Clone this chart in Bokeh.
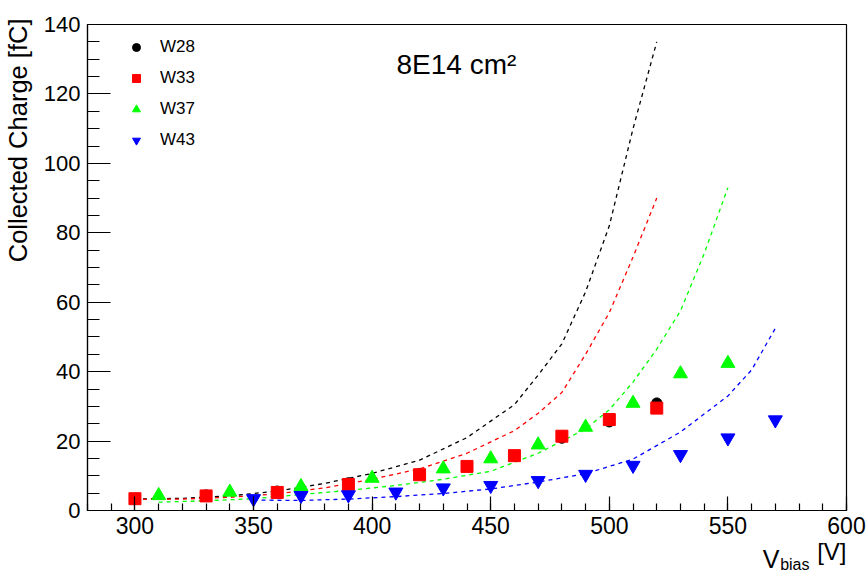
import math
from bokeh.plotting import figure
from bokeh.models import (Range1d, SingleIntervalTicker, Label, Legend, LegendItem)
from bokeh.embed import file_html
from bokeh.resources import INLINE

# ---- data ----
w28_v = [300, 330, 360, 390, 420, 440, 460, 480, 500, 520]
w28_q = [3.3, 4.5, 5.6, 8.0, 10.6, 12.7, 15.6, 20.8, 25.5, 31.0]
w33_v = [300, 330, 360, 390, 420, 440, 460, 480, 500, 520]
w33_q = [3.4, 4.2, 5.2, 7.5, 10.3, 12.7, 15.8, 21.4, 26.2, 29.5]
w37_v = [310, 340, 370, 400, 430, 450, 470, 490, 510, 530, 550]
w37_q = [4.3, 5.3, 6.9, 9.3, 12.0, 14.9, 18.9, 24.0, 30.9, 39.4, 42.4]
w43_v = [350, 370, 390, 410, 430, 450, 470, 490, 510, 530, 550, 570]
w43_q = [3.4, 4.3, 4.5, 5.3, 6.5, 7.2, 8.6, 10.4, 13.0, 16.1, 20.9, 26.1]

sim28_v = [300, 320, 340, 360, 380, 400, 420, 440, 460, 470, 480, 490, 500, 510, 520]
sim28_q = [3.3, 3.5, 4.2, 5.6, 7.8, 10.7, 14.5, 21.0, 30.5, 39.0, 48.0, 63.0, 82.0, 110.0, 135.0]
sim33_v = [300, 320, 340, 360, 380, 400, 420, 440, 460, 470, 480, 490, 500, 510, 520]
sim33_q = [3.2, 3.3, 3.8, 4.8, 6.5, 9.0, 12.0, 16.5, 23.0, 28.0, 34.0, 45.0, 57.0, 73.0, 90.0]
sim37_v = [310, 330, 350, 370, 390, 410, 430, 450, 470, 490, 500, 510, 520, 530, 540, 550]
sim37_q = [2.4, 2.8, 3.4, 4.6, 5.8, 7.2, 9.0, 11.3, 16.5, 23.5, 29.0, 37.0, 46.5, 57.5, 74.0, 93.0]
sim43_v = [350, 370, 390, 410, 430, 450, 470, 490, 510, 530, 550, 560, 570]
sim43_q = [3.0, 2.9, 3.3, 4.0, 4.9, 6.2, 8.2, 10.6, 14.8, 22.6, 33.0, 40.5, 52.5]

labels = ["W28", "W33", "W37", "W43"]
colors = ["#000000", "#ff0000", "#00ff00", "#0000ff"]
markers = ["circle", "square", "triangle", "inverted_triangle"]
marker_sizes = [10, 12, 14, 14]

x_range = (280, 600)
y_range = (0, 140)

FONT = "Liberation Sans"

p = figure(width=866, height=570, output_backend="svg", toolbar_location=None,
           x_range=Range1d(*x_range), y_range=Range1d(*y_range),
           min_border_left=87, min_border_right=20, min_border_top=24,
           min_border_bottom=60)
p.grid.visible = False
p.outline_line_color = "black"
p.outline_line_width = 1.2
p.background_fill_color = "white"
p.border_fill_color = "white"

xa = p.xaxis[0]
xa.ticker = SingleIntervalTicker(interval=50, num_minor_ticks=5)
xa.major_tick_in = 14
xa.major_tick_out = 0
xa.minor_tick_in = 7
xa.minor_tick_out = 0
xa.major_label_standoff = 6
xa.major_label_text_font = FONT
xa.major_label_text_font_size = "23px"
xa.major_label_text_color = "black"

ya = p.yaxis[0]
ya.ticker = SingleIntervalTicker(interval=20, num_minor_ticks=4)
ya.major_tick_in = 23
ya.major_tick_out = 0
ya.minor_tick_in = 12
ya.minor_tick_out = 0
ya.major_label_standoff = 7
ya.major_label_text_font = FONT
ya.major_label_text_font_size = "22px"
ya.major_label_text_color = "black"

for ax in (xa, ya):
    ax.axis_line_color = "black"
    ax.axis_line_width = 1.2
    ax.major_tick_line_color = "black"
    ax.minor_tick_line_color = "black"
    ax.major_tick_line_width = 1.2
    ax.minor_tick_line_width = 1.2

sims = [(sim28_v, sim28_q), (sim33_v, sim33_q), (sim37_v, sim37_q), (sim43_v, sim43_q)]
for (sv, sq), c in zip(sims, colors):
    p.line(sv, sq, line_color=c, line_width=1.3, line_dash="4 4")

pts = [(w28_v, w28_q), (w33_v, w33_q), (w37_v, w37_q), (w43_v, w43_q)]
items = []
for (pv, pq), c, m, s, lab in zip(pts, colors, markers, marker_sizes, labels):
    r = p.scatter(pv, pq, marker=m, size=s, fill_color=c, line_color=c)
    items.append(LegendItem(label=lab, renderers=[r]))

legend = Legend(items=items, location=(39, 360), margin=0, padding=0,
                spacing=11, label_height=20, glyph_height=20, glyph_width=20,
                label_standoff=14, border_line_alpha=0, background_fill_alpha=0,
                label_text_font=FONT, label_text_font_size="17px",
                label_text_color="black")
p.add_layout(legend)

# annotation "8E14 cm²"
p.add_layout(Label(x=309, y=446, x_units="screen", y_units="screen",
                   text="8E14 cm\u00b2", text_font=FONT, text_font_size="28px",
                   text_color="black", text_baseline="alphabetic"))

# y axis title (in the left side panel, so it is not clipped by the frame)
p.add_layout(Label(x=5, y=492, x_units="screen", y_units="screen",
                   text="Collected Charge [fC]", angle=math.pi / 2,
                   text_align="right", text_baseline="alphabetic",
                   text_font=FONT, text_font_size="25.5px", text_color="black"), "left")

# x axis title: V_bias [V]  (parts placed in side panels so they are not clipped)
p.add_layout(Label(x=-67, y=-48, x_units="screen", y_units="screen",
                   text="V", text_align="right", text_baseline="alphabetic",
                   text_font=FONT, text_font_size="25px", text_color="black"), "right")
p.add_layout(Label(x=722, y=-540, x_units="screen", y_units="screen",
                   text="bias", text_align="right", text_baseline="alphabetic",
                   text_font=FONT, text_font_size="16px", text_color="black"), "above")
p.add_layout(Label(x=759, y=12, x_units="screen", y_units="screen",
                   text="[V]", text_align="right", text_baseline="alphabetic",
                   text_font=FONT, text_font_size="24px", text_color="black"), "below")

open("out.html", "w").write(file_html(p, INLINE))
